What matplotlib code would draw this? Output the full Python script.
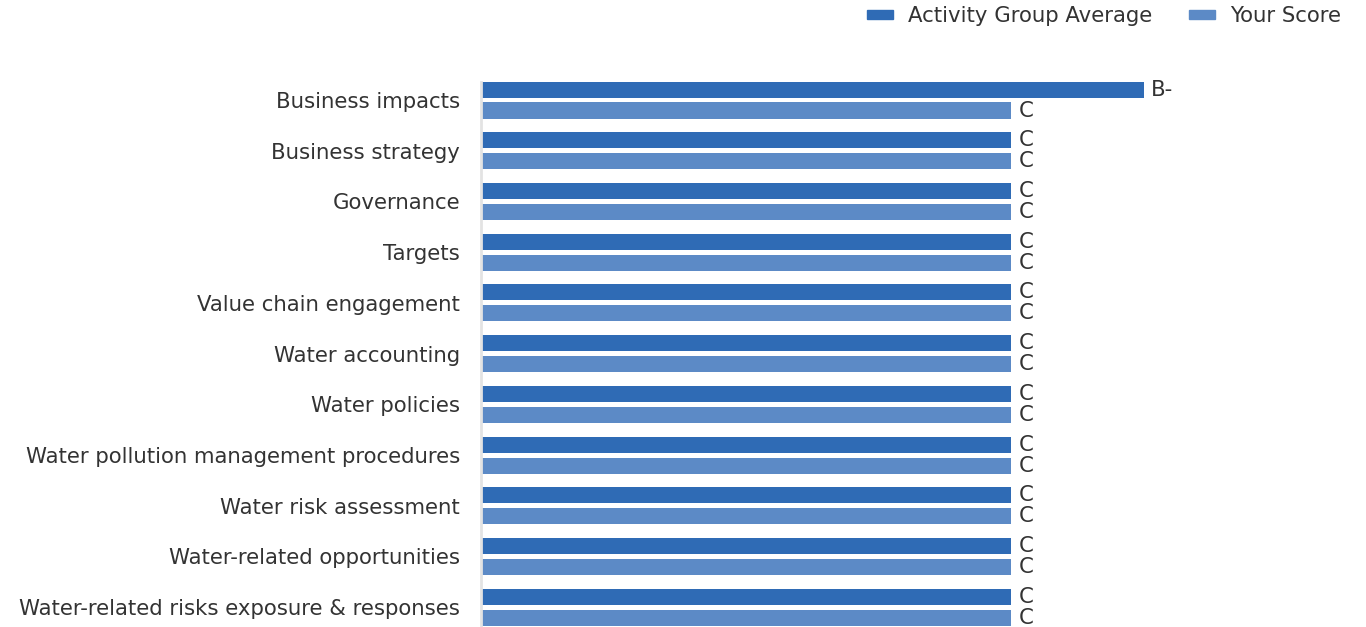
import numpy as np
import matplotlib.pyplot as plt
from matplotlib.patches import Patch

categories = [
    "Business impacts",
    "Business strategy",
    "Governance",
    "Targets",
    "Value chain engagement",
    "Water accounting",
    "Water policies",
    "Water pollution management procedures",
    "Water risk assessment",
    "Water-related opportunities",
    "Water-related risks exposure & responses",
]
# оценки в числах: C = 4, B- = 5
group_avg = [5, 4, 4, 4, 4, 4, 4, 4, 4, 4, 4]
group_avg_labels = ["B-", "C", "C", "C", "C", "C", "C", "C", "C", "C", "C"]
your_score = [4, 4, 4, 4, 4, 4, 4, 4, 4, 4, 4]
your_score_labels = ["C"] * 11

dark = "#2F6BB5"
light = "#5C8AC6"
txt = "#333333"
fs = 15.3

plt.rcParams['font.family'] = ['DejaVu Sans']

fig = plt.figure(figsize=(13.66, 6.27), dpi=100)
ax = fig.add_axes([481 / 1366, 0, (1340 - 481) / 1366, 1 - 81.5 / 627])

y = np.arange(len(categories))
h = 0.316
off = 0.207

b1 = ax.barh(y - off, group_avg, height=h, color=dark)
b2 = ax.barh(y + off, your_score, height=h, color=light)

for bars, labs in ((b1, group_avg_labels), (b2, your_score_labels)):
    for rect, lab in zip(bars, labs):
        ax.annotate(lab, (rect.get_width(), rect.get_y() + rect.get_height() / 2),
                    xytext=(5.5, 0), textcoords='offset points',
                    va='center', ha='left', fontsize=fs, color=txt)

ax.set_xlim(0, 859 / 132.5)
ax.set_ylim(10.39, -0.365)
ax.set_yticks(y)
ax.set_yticklabels(categories, fontsize=fs, color=txt)
ax.tick_params(axis='y', length=0, pad=15)
ax.set_xticks([])
for s in ('top', 'right', 'bottom'):
    ax.spines[s].set_visible(False)
ax.spines['left'].set_color('#e3e3e3')
ax.spines['left'].set_linewidth(2)

handles = [Patch(color=dark), Patch(color=light)]
fig.legend(handles, ["Activity Group Average", "Your Score"],
           loc='upper right', bbox_to_anchor=(1341 / 1366, 1 - 6 / 627),
           ncol=2, frameon=False, fontsize=fs, labelcolor=txt,
           borderpad=0, borderaxespad=0,
           handlelength=1.25, handleheight=0.28, handletextpad=0.7,
           columnspacing=1.7)

fig.savefig('out.png', dpi=100)
